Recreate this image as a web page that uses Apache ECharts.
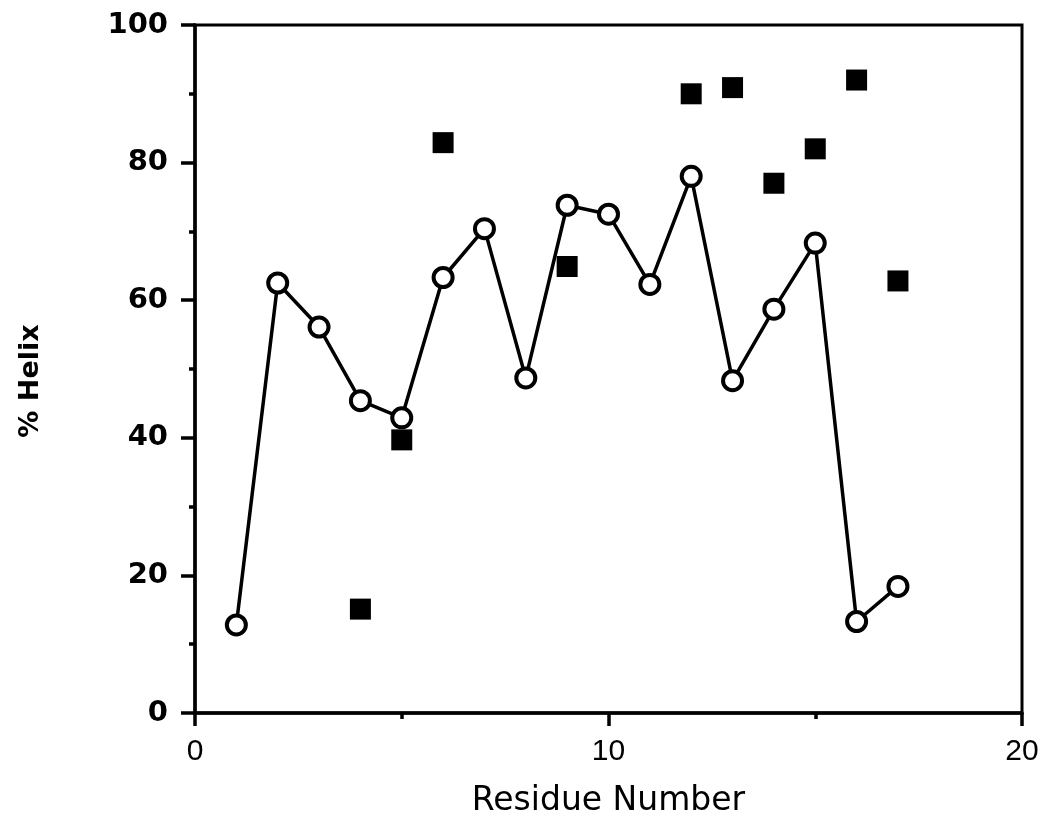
<!DOCTYPE html>
<html><head><meta charset="utf-8">
<script src="https://cdn.jsdelivr.net/npm/echarts@6/dist/echarts.min.js"></script>
<style>html,body{margin:0;padding:0;background:#fff}#c{width:1043px;height:823px}</style>
</head><body><div id="c"></div>
<script>
const residues = [1,2,3,4,5,6,7,8,9,10,11,12,13,14,15,16,17];
const helixOpen = [12.8,62.5,56.1,45.4,42.9,63.3,70.4,48.7,73.8,72.5,62.3,78.0,48.3,58.7,68.3,13.3,18.4];
const squareX = [4,5,6,9,12,13,14,15,16,17];
const helixSquare = [15.1,39.7,82.9,64.9,90.0,90.9,77.0,82.0,92.0,62.8];

const chart = echarts.init(document.getElementById('c'));
chart.setOption({
  animation:false,
  backgroundColor:'#fff',
  grid:{left:195,right:21,top:25,bottom:108,show:true,borderColor:'#000',borderWidth:3,backgroundColor:'transparent'},
  xAxis:{type:'value',min:0,max:20,interval:10,
    name:'Residue Number',nameLocation:'middle',nameGap:72,
    nameTextStyle:{fontFamily:'DejaVu Sans',fontSize:33,color:'#000'},
    axisLine:{lineStyle:{color:'#000',width:3.5}},
    axisTick:{length:13,lineStyle:{color:'#000',width:3.5}},
    minorTick:{show:true,splitNumber:2,length:6,lineStyle:{color:'#000',width:3.5}},
    splitLine:{show:false},
    axisLabel:{margin:24,fontFamily:'Liberation Sans',fontSize:30,color:'#000'}
  },
  yAxis:{type:'value',min:0,max:100,interval:20,
    name:'% Helix',nameLocation:'middle',nameGap:151,nameRotate:90,
    nameTextStyle:{fontFamily:'DejaVu Sans',fontWeight:'bold',fontSize:27,color:'#000',padding:[0,24,0,0]},
    axisLine:{lineStyle:{color:'#000',width:3.5}},
    axisTick:{length:14,lineStyle:{color:'#000',width:3.5}},
    minorTick:{show:true,splitNumber:2,length:6,lineStyle:{color:'#000',width:3.5}},
    splitLine:{show:false},
    axisLabel:{margin:27,fontFamily:'DejaVu Sans',fontWeight:'bold',fontSize:29,color:'#000'}
  },
  series:[
    {type:'line',data:residues.map((x,i)=>[x,helixOpen[i]]),
     symbol:'circle',symbolSize:19,
     lineStyle:{color:'#000',width:3.5},
     itemStyle:{color:'#fff',borderColor:'#000',borderWidth:4},z:3},
    {type:'scatter',data:squareX.map((x,i)=>[x,helixSquare[i]]),
     symbol:'rect',symbolSize:21,
     itemStyle:{color:'#000',opacity:1},z:2}
  ]
});
</script></body></html>
